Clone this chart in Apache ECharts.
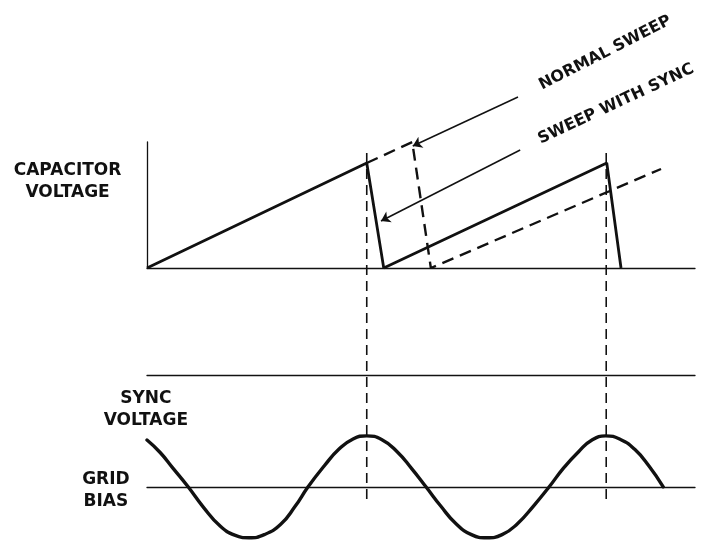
<!DOCTYPE html>
<html>
<head>
<meta charset="utf-8">
<script src="https://cdn.jsdelivr.net/npm/echarts@6/dist/echarts.min.js"></script>
<style>
html,body{margin:0;padding:0;background:#fff;}
#chart{width:703px;height:543px;}
</style>
</head>
<body>
<div id="chart"></div>
<script>
// ---- Data (time axis 0..100, capacitor voltage in % of sync-sweep peak, sync voltage in volts) ----
const sweepWithSync = [[0,0],[40.1,100],[43.2,0],[83.9,100],[86.5,0]];
const normalSweep   = [[40.1,100],[48.4,120],[51.8,0],[93.8,94.3]];
const syncVoltage = [
  [0,9.0],[2.4,6.6],[4.8,3.5],[7.5,0],[10.2,-3.8],[13.3,-7.5],[16.0,-9.3],[18.6,-9.8],
  [21.4,-9.2],[24.4,-7.2],[27.0,-3.8],[29.4,0],[32.4,4.1],[35.0,7.2],[37.6,9.2],[40.1,9.8],
  [42.8,9.1],[45.6,6.8],[48.3,3.5],[50.9,0],[53.6,-3.7],[56.3,-7.0],[59.2,-9.2],[62.0,-9.8],
  [64.8,-9.2],[67.6,-7.1],[70.6,-3.6],[73.4,0],[76.0,3.6],[78.8,6.8],[81.2,9.0],[83.7,9.8],
  [86.4,9.1],[89.0,7.2],[91.6,4.0],[94.2,0]
];
const syncPeakTimes = [40.1, 83.8];
const markerSpan = [109.5, -220];
const leaderLines = [
  {from:[67.7,162.9], to:[48.5,116.2]},
  {from:[68.1,112.4], to:[42.7,44.8]}
];
const sideLabels = [
  {text:'CAPACITOR\nVOLTAGE', at:[-14.5,81.9]},
  {text:'SYNC\nVOLTAGE', at:[-0.2,-134.8]},
  {text:'GRID\nBIAS', at:[-7.5,-212]}
];
const slantLabels = [
  {text:'NORMAL SWEEP', at:[83.6,204.8], angle:27},
  {text:'SWEEP WITH SYNC', at:[85.6,156.2], angle:25}
];

const INK = '#111';
const FONT = 'DejaVu Sans';

const chart = echarts.init(document.getElementById('chart'), null, {renderer:'canvas'});

const bare = {axisTick:{show:false}, axisLabel:{show:false}, splitLine:{show:false}};
const OX = 3, OY = 2; // overlay axes

const series = [
  {type:'line', xAxisIndex:0, yAxisIndex:0, data:sweepWithSync, symbol:'none', silent:true,
   lineStyle:{color:INK, width:2.8}},
  {type:'line', xAxisIndex:0, yAxisIndex:0, data:normalSweep, symbol:'none', silent:true,
   lineStyle:{color:INK, width:2.4, type:[12,7]}},
  {type:'line', xAxisIndex:1, yAxisIndex:1, data:syncVoltage, symbol:'none', smooth:0.5, silent:true,
   lineStyle:{color:INK, width:3.4, join:'round', cap:'round'}}
];
syncPeakTimes.forEach(t => {
  series.push({type:'line', xAxisIndex:OX, yAxisIndex:OY, data:[[t,markerSpan[0]],[t,markerSpan[1]]],
    symbol:'none', silent:true, lineStyle:{color:INK, width:1.6, type:[10,6]}});
});
series.push({
  type:'lines', coordinateSystem:'cartesian2d', xAxisIndex:OX, yAxisIndex:OY, silent:true,
  symbol:['none','arrow'], symbolSize:[0,9],
  lineStyle:{color:INK, width:1.5, opacity:1},
  data: leaderLines.map(l => ({coords:[l.from, l.to]}))
});
const labelBase = {show:true, position:'inside', formatter:p => p.name, color:INK, opacity:1,
  fontFamily:FONT, fontWeight:'bold', align:'center', verticalAlign:'middle'};
series.push({
  type:'scatter', xAxisIndex:OX, yAxisIndex:OY, clip:false, silent:true, symbolSize:0,
  itemStyle:{opacity:1},
  data: sideLabels.map(l => ({value:l.at, name:l.text})),
  label:Object.assign({}, labelBase, {fontSize:17, lineHeight:22})
});
slantLabels.forEach(l => {
  series.push({
    type:'scatter', xAxisIndex:OX, yAxisIndex:OY, clip:false, silent:true, symbolSize:0,
    itemStyle:{opacity:1},
    data:[{value:l.at, name:l.text}],
    label:Object.assign({}, labelBase, {fontSize:16, rotate:l.angle})
  });
});

chart.setOption({
  backgroundColor:'#fff',
  animation:false,
  grid:[
    {left:147, width:548, top:142, height:126},
    {left:147, width:548, top:375, height:166.4},
    {left:147, width:548, top:5.5, height:535.5}
  ],
  xAxis:[
    Object.assign({type:'value', gridIndex:0, min:0, max:100, axisLine:{show:true, onZero:false, lineStyle:{color:INK, width:1.3}}}, bare),
    Object.assign({type:'value', gridIndex:1, min:0, max:100, axisLine:{show:true, onZero:true, lineStyle:{color:INK, width:1.3}}}, bare),
    Object.assign({type:'value', gridIndex:1, min:0, max:100, position:'top', axisLine:{show:true, onZero:false, lineStyle:{color:INK, width:1.3}}}, bare),
    {type:'value', gridIndex:2, min:0, max:100, show:false}
  ],
  yAxis:[
    Object.assign({type:'value', gridIndex:0, min:0, max:120, axisLine:{show:true, onZero:false, lineStyle:{color:INK, width:1.3}}}, bare),
    {type:'value', gridIndex:1, min:-10.5, max:21.5, show:false},
    {type:'value', gridIndex:2, min:-260, max:250, show:false}
  ],
  series:series
});
</script>
</body>
</html>
